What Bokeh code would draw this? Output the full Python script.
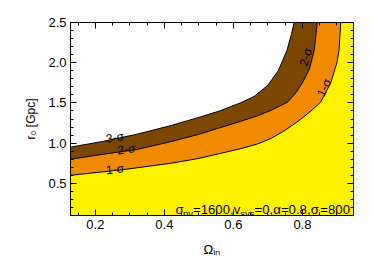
import math
from bokeh.plotting import figure
from bokeh.models import Range1d, FixedTicker, LinearAxis, Label
from bokeh.embed import file_html
from bokeh.resources import INLINE
from bokeh.core.properties import value

# ---- data ----
omega_3s = [0.128, 0.22, 0.32, 0.42, 0.50, 0.56, 0.62, 0.66, 0.70, 0.73, 0.755, 0.768, 0.776]
r0_3s = [0.95, 1.02, 1.11, 1.22, 1.32, 1.40, 1.50, 1.58, 1.72, 1.90, 2.15, 2.35, 2.50]

omega_2s = [0.128, 0.22, 0.32, 0.42, 0.50, 0.56, 0.62, 0.67, 0.71, 0.757, 0.78, 0.80, 0.82, 0.834, 0.843]
r0_2s = [0.80, 0.86, 0.92, 1.02, 1.11, 1.19, 1.27, 1.34, 1.41, 1.51, 1.62, 1.75, 1.92, 2.15, 2.50]

omega_1s = [0.128, 0.28, 0.42, 0.50, 0.56, 0.62, 0.67, 0.71, 0.75, 0.79, 0.825, 0.853, 0.882, 0.90, 0.906, 0.911]
r0_1s = [0.60, 0.67, 0.75, 0.81, 0.87, 0.93, 0.99, 1.06, 1.16, 1.28, 1.40, 1.51, 1.75, 2.00, 2.15, 2.50]

contour_labels = ["3-σ", "2-σ", "1-σ", "2-σ", "1-σ"]
x_ticks = [0.2, 0.4, 0.6, 0.8]
x_tick_labels = ["0.2", "0.4", "0.6", "0.8"]
y_ticks = [0.5, 1.0, 1.5, 2.0, 2.5]
y_tick_labels = ["0.5", "1.0", "1.5", "2.0", "2.5"]

X0, X1 = 0.128, 0.948
Y0, Y1 = 0.1, 2.5
FONT = "Liberation Sans"

x_minor = [round(0.15 + 0.05 * i, 2) for i in range(17)]
y_minor = [round(0.1 + 0.1 * i, 2) for i in range(25)]

p = figure(width=366, height=259, x_range=Range1d(X0, X1), y_range=Range1d(Y0, Y1),
           output_backend="svg", toolbar_location=None,
           min_border_left=70, min_border_right=13, min_border_top=22, min_border_bottom=37)
p.xgrid.visible = False
p.ygrid.visible = False
p.outline_line_color = "black"
p.outline_line_width = 1
p.background_fill_color = "white"
p.border_fill_color = "white"

YELLOW = "#FFF200"
ORANGE = "#F08A00"
BROWN = "#7C4700"

# background yellow
p.quad(left=[X0], right=[X1], bottom=[Y0], top=[Y1], fill_color=YELLOW, line_color=None)
# regions above each contour
p.patch(omega_1s + [X0], r0_1s + [Y1], fill_color=ORANGE, line_color=None)
p.patch(omega_2s + [X0], r0_2s + [Y1], fill_color=BROWN, line_color=None)
p.patch(omega_3s + [X0], r0_3s + [Y1], fill_color="white", line_color=None)
for xs, ys in [(omega_1s, r0_1s), (omega_2s, r0_2s), (omega_3s, r0_3s)]:
    p.line(xs, ys, line_color="black", line_width=1)

# contour labels
p.text(x=[0.257, 0.29, 0.257, 0.81, 0.863], y=[1.07, 0.925, 0.675, 2.07, 1.69],
       text=contour_labels, angle=[0.17, 0.14, 0.1, 1.3, 1.15],
       text_font=value(FONT), text_font_size="12px", text_color="black",
       text_align="center", text_baseline="middle")


def style_axis(ax, ticks, minor, labels, show):
    ax.ticker = FixedTicker(ticks=ticks, minor_ticks=minor)
    ax.major_label_overrides = {t: (l if show else "") for t, l in zip(ticks, labels)}
    ax.major_tick_in = 6
    ax.major_tick_out = 0
    ax.minor_tick_in = 3
    ax.minor_tick_out = 0
    ax.axis_line_color = "black"
    ax.major_tick_line_color = "black"
    ax.minor_tick_line_color = "black"
    ax.major_label_text_font = FONT
    ax.major_label_text_font_size = "13px" if show else "1px"
    ax.major_label_text_color = "black"
    ax.major_label_standoff = 4 if show else 0


bottom_ax = p.below[0]
left_ax = p.left[0]
style_axis(bottom_ax, x_ticks, x_minor, x_tick_labels, True)
style_axis(left_ax, y_ticks, y_minor, y_tick_labels, True)
top = LinearAxis()
style_axis(top, x_ticks, x_minor, x_tick_labels, False)
p.add_layout(top, "above")
right = LinearAxis()
style_axis(right, y_ticks, y_minor, y_tick_labels, False)
p.add_layout(right, "right")

# axis titles
bottom_ax.axis_label = "Ωᵢₙ"
bottom_ax.axis_label_text_font = FONT
bottom_ax.axis_label_text_font_size = "13px"
bottom_ax.axis_label_text_font_style = "normal"
bottom_ax.axis_label_text_color = "black"
bottom_ax.axis_label_standoff = 10
left_ax.axis_label = "r₀ [Gpc]"
left_ax.axis_label_text_font = FONT
left_ax.axis_label_text_font_size = "12px"
left_ax.axis_label_text_font_style = "normal"
left_ax.axis_label_text_color = "black"
left_ax.axis_label_standoff = 7

# rich text helper for the in-plot annotation
W = {'σ': 0.571, 'α': 0.578, 'Ω': 0.768, '=': 0.584, ',': 0.278, '.': 0.278, 'v': 0.5, 's': 0.5,
     'y': 0.5, 'p': 0.556, 'i': 0.222, 'n': 0.556, 'r': 0.333, ' ': 0.278, '[': 0.278, ']': 0.278,
     'G': 0.778, 'c': 0.5, '-': 0.333}


def tw(t, size):
    return sum(W.get(ch, 0.556) for ch in t) * size


def rich(x, y, pieces):
    off = 0.0
    for txt, size, dy in pieces:
        lab = Label(x=x, y=y, x_offset=off, y_offset=dy, text=txt)
        lab.text_font = FONT
        lab.text_font_size = f"{size}px"
        lab.text_color = "black"
        lab.text_align = "left"
        lab.text_baseline = "alphabetic"
        p.add_layout(lab)
        off += tw(txt, size)


S, s, d = 13.2, 9.5, -3.5
rich(0.432, 0.171, [("σ", S, 0), ("pv", s, d), ("=1600,", S, 0), ("v", S, 0), ("sys", s, d),
                    ("=0,", S, 0), ("α=0.8,", S, 0), ("σ", S, 0), ("i", s, d), ("=800", S, 0)])

open("out.html", "w").write(file_html(p, INLINE))
